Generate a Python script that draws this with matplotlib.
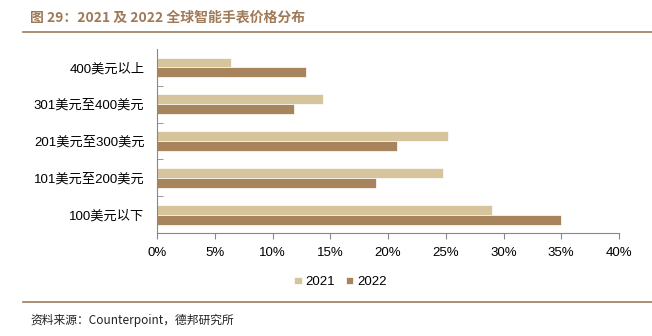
import matplotlib
matplotlib.use("Agg")
import matplotlib.pyplot as plt
import numpy as np
from matplotlib.lines import Line2D

plt.rcParams['font.family'] = ['Liberation Sans', 'Noto Sans CJK SC', 'DejaVu Sans']

# data
categories = ["400美元以上", "301美元至400美元", "201美元至300美元", "101美元至200美元", "100美元以下"]
share_2021 = [6.4, 14.4, 25.2, 24.8, 29.0]
share_2022 = [12.9, 11.9, 20.8, 19.0, 35.0]
xticks = [0, 5, 10, 15, 20, 25, 30, 35, 40]

c2021 = "#D5C49C"
c2022 = "#A8845C"
brown = "#A07A58"

fig = plt.figure(figsize=(6.52, 3.36), dpi=100)
ax = fig.add_axes([0.2408, 0.3065, 0.7086, 0.5475])

y = np.arange(len(categories))
h = 0.27
ax.barh(y - h / 2, share_2021, height=h, color=c2021, edgecolor="white", linewidth=0.5, label="2021")
ax.barh(y + h / 2, share_2022, height=h, color=c2022, edgecolor="white", linewidth=0.5, label="2022")

ax.set_xlim(0, 40)
ax.set_ylim(len(categories) - 0.5, -0.5)
ax.set_xticks(xticks)
ax.set_xticklabels([f"{v}%" for v in xticks], fontsize=9.5)
ax.set_yticks(y)
ax.set_yticklabels(categories, fontsize=9.5)
ax.set_yticks(np.arange(len(categories) - 1) + 0.5, minor=True)
ax.tick_params(axis="y", which="major", length=0, pad=9)
ax.tick_params(axis="y", which="minor", length=4, direction="in", color="#888888")
ax.tick_params(axis="x", length=4, color="#888888", pad=6)
for s in ["top", "right"]:
    ax.spines[s].set_visible(False)
for s in ["left", "bottom"]:
    ax.spines[s].set_color("#888888")

ax.legend(loc="upper center", bbox_to_anchor=(0.397, -0.17), ncol=2, frameon=False,
          fontsize=9.5, handlelength=0.55, handleheight=0.55, handletextpad=0.3, columnspacing=0.8)

# title, rules and source
fig.text(0.046, 0.948, "图 29：2021 及 2022 全球智能手表价格分布", fontsize=10, fontweight="bold",
         color=brown, family=['Noto Sans CJK SC', 'DejaVu Sans'], va="center")
fig.add_artist(Line2D([0.035, 1.0], [0.906, 0.906], color=brown, linewidth=1.2))
fig.add_artist(Line2D([0.035, 1.0], [0.101, 0.101], color=brown, linewidth=1.2))
fig.text(0.046, 0.047, "资料来源：Counterpoint，德邦研究所", fontsize=8.5, color="#222222",
         family=['Noto Sans CJK SC', 'DejaVu Sans'], va="center")

fig.savefig("out.png", dpi=100)
